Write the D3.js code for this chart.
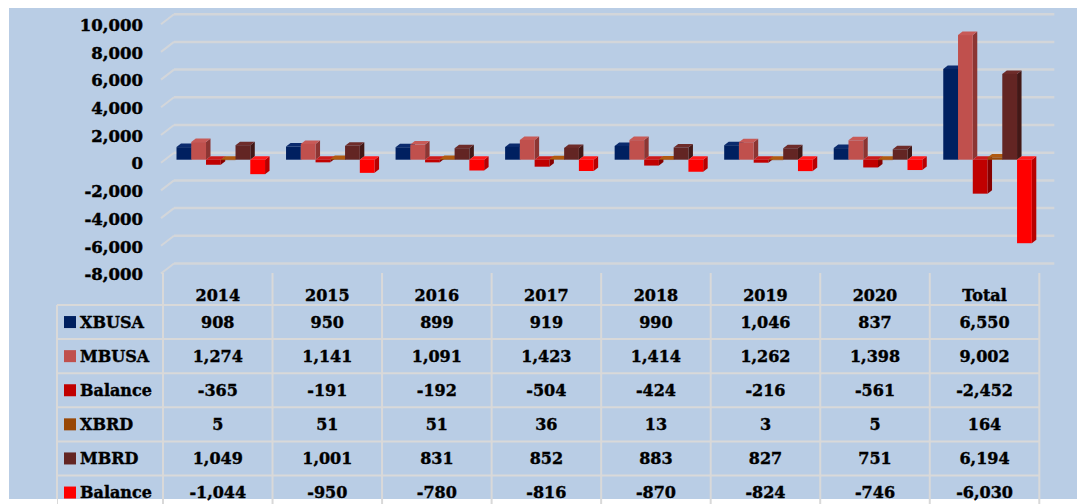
<!DOCTYPE html>
<html>
<head>
<meta charset="utf-8">
<script src="https://cdn.jsdelivr.net/npm/d3@7"></script>
<style>
  body { margin: 0; background: #fff; }
  svg { display: block; }
</style>
</head>
<body>
<div id="chart"></div>
<script>
var categories = ["2014", "2015", "2016", "2017", "2018", "2019", "2020", "Total"];
var seriesNames = ["XBUSA", "MBUSA", "Balance", "XBRD", "MBRD", "Balance"];
var xbusa = [908, 950, 899, 919, 990, 1046, 837, 6550];
var mbusa = [1274, 1141, 1091, 1423, 1414, 1262, 1398, 9002];
var balanceUsa = [-365, -191, -192, -504, -424, -216, -561, -2452];
var xbrd = [5, 51, 51, 36, 13, 3, 5, 164];
var mbrd = [1049, 1001, 831, 852, 883, 827, 751, 6194];
var balanceRd = [-1044, -950, -780, -816, -870, -824, -746, -6030];
var yTicks = [-8000, -6000, -4000, -2000, 0, 2000, 4000, 6000, 8000, 10000];

var seriesValues = [xbusa, mbusa, balanceUsa, xbrd, mbrd, balanceRd];
// front, side, top colours per series
var colors = [
    {front: "#002060", side: "#00153f", top: "#0b2b6e"},
    {front: "#c0504d", side: "#8c3533", top: "#c85a57"},
    {front: "#c00000", side: "#860000", top: "#cc1a1a"},
    {front: "#984807", side: "#6c3204", top: "#b05a10"},
    {front: "#632523", side: "#421816", top: "#6e2c2a"},
    {front: "#ff0000", side: "#b80000", top: "#ff1a1a"}
];

var width = 1077, height = 504;
var plotLeft = 163, plotRight = 1039.3;
var backDx = 13, backDy = -10;      // depth of the back wall
var barDx0 = 4, barDy0 = -3;        // front face of bars
var barDx = 4.5, barDy = -3.5;      // bar thickness
var fontFam = "'DejaVu Serif', serif";
var fmt = d3.formatLocale({decimal: ".", thousands: ",", grouping: [3], currency: ["", ""], minus: "-"}).format(",");

var svg = d3.select("#chart")
    .append("svg")
    .attr("width", width)
    .attr("height", height);

svg.append("rect")
    .attr("x", 9).attr("y", 8)
    .attr("width", width - 9).attr("height", 491)
    .attr("fill", "#b9cde5");

var y = d3.scaleLinear().domain([-8000, 10000]).range([273.5, 24.2]);
var x = d3.scaleBand().domain(categories).range([plotLeft, plotRight]).padding(0);
var inner = d3.scaleBand().domain(d3.range(seriesNames.length))
    .range([9.5, x.bandwidth() - 11.5]).padding(0);

// gridlines on back wall + left side
var grid = svg.append("g");
yTicks.forEach(function(t) {
    var yy = y(t);
    grid.append("line")
        .attr("x1", plotLeft - 2 + backDx).attr("x2", plotRight + 2 + backDx)
        .attr("y1", yy + backDy).attr("y2", yy + backDy)
        .attr("stroke", "#d3d6da").attr("stroke-width", 2.5);
    grid.append("line")
        .attr("x1", plotLeft - 2).attr("y1", yy)
        .attr("x2", plotLeft - 2 + backDx).attr("y2", yy + backDy)
        .attr("stroke", "#d3d6da").attr("stroke-width", 2);
});

// y axis labels
var yAxis = d3.axisLeft(y).tickValues(yTicks).tickFormat(fmt).tickSize(0).tickPadding(0);
var ag = svg.append("g")
    .attr("transform", "translate(143,1)")
    .call(yAxis);
ag.select(".domain").remove();
ag.selectAll("text")
    .attr("fill", "#000")
    .attr("stroke", "#000")
    .attr("stroke-width", 0.45)
    .style("font-family", fontFam)
    .style("font-weight", "bold")
    .style("font-size", "16.5px");

// 3D bars
var bars = svg.append("g");
categories.forEach(function(cat, i) {
    seriesValues.forEach(function(vals, s) {
        var v = vals[i];
        var c = colors[s];
        var w = inner.bandwidth();
        var x0 = x(cat) + inner(s) + barDx0;
        var yTop = y(Math.max(v, 0)) + barDy0;
        var yBot = y(Math.min(v, 0)) + barDy0;
        bars.append("polygon")
            .attr("points", [[x0 + w, yTop], [x0 + w + barDx, yTop + barDy],
                [x0 + w + barDx, yBot + barDy], [x0 + w, yBot]].join(" "))
            .attr("fill", c.side);
        bars.append("polygon")
            .attr("points", [[x0, yTop], [x0 + barDx, yTop + barDy],
                [x0 + w + barDx, yTop + barDy], [x0 + w, yTop]].join(" "))
            .attr("fill", c.top);
        bars.append("rect")
            .attr("x", x0).attr("y", yTop)
            .attr("width", w).attr("height", Math.max(yBot - yTop, 0.5))
            .attr("fill", c.front);
    });
});

// data table
var table = svg.append("g");
var rowTop = 305, rowH = 34.1;
var lineColor = "#d9d9d9";

x.domain().forEach(function(cat) {
    table.append("line")
        .attr("x1", x(cat)).attr("x2", x(cat))
        .attr("y1", 273).attr("y2", height)
        .attr("stroke", lineColor).attr("stroke-width", 2);
});
table.append("line")
    .attr("x1", plotRight).attr("x2", plotRight)
    .attr("y1", 273).attr("y2", height)
    .attr("stroke", lineColor).attr("stroke-width", 2);
table.append("line")
    .attr("x1", 57).attr("x2", 57)
    .attr("y1", rowTop).attr("y2", height)
    .attr("stroke", lineColor).attr("stroke-width", 2);
seriesNames.forEach(function(n, r) {
    table.append("line")
        .attr("x1", 57).attr("x2", plotRight)
        .attr("y1", rowTop + r * rowH).attr("y2", rowTop + r * rowH)
        .attr("stroke", lineColor).attr("stroke-width", 2);
});

function tText(tx, ty, str, anchor) {
    table.append("text")
        .attr("x", tx).attr("y", ty)
        .attr("text-anchor", anchor)
        .attr("font-family", fontFam)
        .attr("font-weight", "bold")
        .attr("font-size", 16)
        .attr("fill", "#000")
        .attr("stroke", "#000")
        .attr("stroke-width", 0.4)
        .text(str);
}

categories.forEach(function(cat) {
    tText(x(cat) + x.bandwidth() / 2, 301, cat, "middle");
});

seriesNames.forEach(function(n, r) {
    var cy = rowTop + r * rowH + rowH / 2;
    table.append("rect")
        .attr("x", 64).attr("y", cy - 6)
        .attr("width", 12).attr("height", 12)
        .attr("fill", colors[r].front);
    tText(80, cy + 5.8, n, "start");
    categories.forEach(function(cat, i) {
        tText(x(cat) + x.bandwidth() / 2, cy + 5.8, fmt(seriesValues[r][i]), "middle");
    });
});

// white strip at the bottom edge
svg.append("rect")
    .attr("x", 0).attr("y", 499)
    .attr("width", 57).attr("height", 5)
    .attr("fill", "#fff");
</script>
</body>
</html>
